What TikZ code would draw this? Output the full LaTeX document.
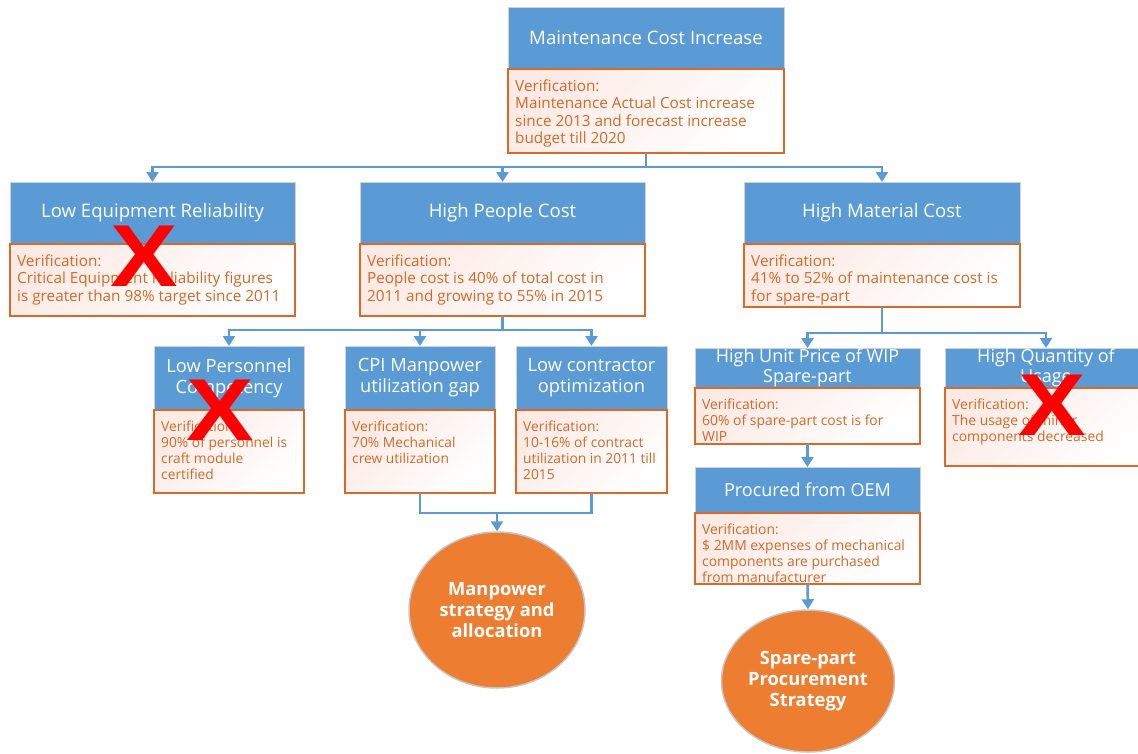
\documentclass[tikz,border=0pt]{standalone}
\usepackage{fontspec}
\setmainfont{Open Sans}
\newfontfamily\xmarkfont{Liberation Sans}
\usetikzlibrary{arrows.meta,shapes.geometric,calc}

\definecolor{hdrblue}{HTML}{5B9BD5}
\definecolor{lnblue}{HTML}{5B9BD5}
\definecolor{boxorange}{HTML}{D9692B}
\definecolor{txtorange}{HTML}{D0692A}
\definecolor{ovalorange}{HTML}{ED7D31}
\definecolor{pinkwash}{HTML}{FCEAE4}

\tikzset{
  hdr/.style={rectangle, fill=hdrblue, draw=gray!35, line width=1pt,
    text=white, align=center, inner sep=0pt, outer sep=0pt},
  ver/.style={rectangle, draw=boxorange, line width=2pt, inner sep=0pt, outer sep=0pt,
    top color=pinkwash, middle color=white, bottom color=white, shading angle=45},
  vtext/.style={text=txtorange, align=left, inner sep=0pt, anchor=north west},
  tierA/.style={hdrfont/.style={font=\fontsize{18.6}{22}\selectfont},
                verfont/.style={font=\fontsize{15.3}{17.5}\selectfont}},
  tierB/.style={hdrfont/.style={font=\fontsize{18.3}{21}\selectfont},
                verfont/.style={font=\fontsize{13.8}{16}\selectfont}},
  tierC/.style={hdrfont/.style={font=\fontsize{18}{20}\selectfont},
                verfont/.style={font=\fontsize{13.9}{16}\selectfont}},
  conn/.style={draw=lnblue, line width=2.5pt},
  arr/.style={conn, -{Triangle[width=12pt,length=10pt]}},
  outcome/.style={ellipse, fill=ovalorange, draw=gray!45, line width=1.5pt,
    text=white, align=center, inner sep=0pt,
    font=\bfseries\fontsize{18.3}{21}\selectfont},
  xmark/.style={text=red, inner sep=0pt, xscale=1.15,
    font=\xmarkfont\bfseries\fontsize{88}{88}\selectfont}
}

% cause box: name, left, right, top, split, bottom, tier, heading, verification
\newcommand{\causebox}[9]{%
  \begin{scope}[#7]
  \node[hdr, hdrfont, minimum width={(#3-#2)*1pt}, minimum height={(#5-#4)*1pt}]
    (#1-h) at ({(#2+#3)/2},{(#4+#5)/2}) {#8};
  \node[ver, minimum width={(#3-#2)*1pt}, minimum height={(#6-#5)*1pt}]
    (#1-v) at ({(#2+#3)/2},{(#5+#6)/2}) {};
  \node[vtext, verfont] (#1-t) at ($(#1-v.north west)+(7,10.5)$) {#9};
  \end{scope}}

\begin{document}
\begin{tikzpicture}[x=1pt, y=-1pt]
\useasboundingbox (0,0) rectangle (1138,753);

% level 0
\causebox{top}{508}{784}{7}{69}{153}{tierA}{Maintenance Cost Increase}
  {Verification:\\Maintenance Actual Cost increase\\since 2013 and forecast increase\\budget till 2020}

% level 1
\causebox{rel}{10}{295}{182}{244}{316}{tierA}{Low Equipment Reliability}
  {Verification:\\Critical Equipment Reliability figures\\is greater than 98\% target since 2011}
\causebox{ppl}{360}{645}{182}{244}{316}{tierA}{High People Cost}
  {Verification:\\People cost is 40\% of total cost in\\2011 and growing to 55\% in 2015}
\causebox{mat}{744}{1020}{182}{244}{307}{tierA}{High Material Cost}
  {Verification:\\41\% to 52\% of maintenance cost is\\for spare-part}

% level 2, people branch
\causebox{comp}{154}{304}{346}{410}{493}{tierB}{Low Personnel\\Competency}
  {Verification:\\90\% of personnel is\\craft module\\certified}
\causebox{cpi}{345}{495}{346}{410}{493}{tierB}{CPI Manpower\\utilization gap}
  {Verification:\\70\% Mechanical\\crew utilization}
\causebox{con}{516}{667}{346}{410}{493}{tierB}{Low contractor\\optimization}
  {Verification:\\10-16\% of contract\\utilization in 2011 till\\2015}

% level 2, material branch
\causebox{wip}{695}{920}{348}{388}{444}{tierC}{High Unit Price of WIP\\Spare-part}
  {Verification:\\60\% of spare-part cost is for\\WIP}
\causebox{qty}{945}{1147}{348}{388}{466}{tierC}{High Quantity of\\Usage}
  {Verification:\\The usage of minor\\components decreased}
\causebox{oem}{695}{920}{467}{513}{584}{tierC}{Procured from OEM}
  {Verification:\\\$ 2MM expenses of mechanical\\components are purchased\\from manufacturer}

% outcomes
\node[outcome, minimum width=176pt, minimum height=156pt] (man) at (497,610)
  {Manpower\\strategy and\\allocation};
\node[outcome, minimum width=173pt, minimum height=142pt] (spare) at (808,681)
  {Spare-part\\Procurement\\Strategy};

% connectors
\coordinate (busA) at ($(top-v.south)+(0,14)$);
\draw[conn] (top-v.south) -- (busA);
\draw[arr] (busA) -| (rel-h.north);
\draw[arr] (busA) -| (ppl-h.north);
\draw[arr] (busA) -| (mat-h.north);

\coordinate (busB) at ($(ppl-v.south)+(0,14)$);
\draw[conn] (ppl-v.south) -- (busB);
\draw[arr] (busB) -| (comp-h.north);
\draw[arr] (busB) -| (cpi-h.north);
\draw[arr] (busB) -| (con-h.north);

\coordinate (busC) at ($(mat-v.south)+(0,26)$);
\draw[conn] (mat-v.south) -- (busC);
\draw[arr] (busC) -| (wip-h.north);
\draw[arr] (busC) -| (qty-h.north);

\draw[arr] (wip-v.south) -- (oem-h.north);

\coordinate (busD) at ($(cpi-v.south)+(0,20)$);
\coordinate (joinD) at (man.north |- busD);
\draw[conn] (cpi-v.south) |- (busD) -| (con-v.south);
\draw[arr] (joinD) -- (man.north);

\draw[arr] (oem-v.south) -- (spare.north);

% rejected causes
\node[xmark] (x1) at (144,256) {X};
\node[xmark] (x2) at (220,410) {X};
\node[xmark] (x3) at (1052,405) {X};
\end{tikzpicture}
\end{document}
